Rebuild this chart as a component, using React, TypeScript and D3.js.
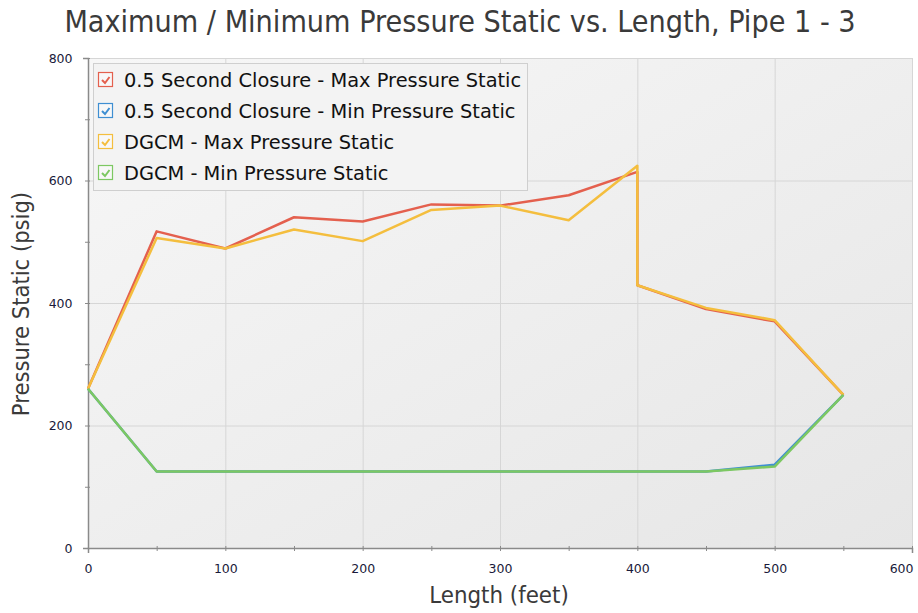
import { useRef, useEffect } from "react";
import * as d3 from "d3";

type Pt = { x: number; y: number };

const lengths = [0, 50, 100, 150, 200, 250, 300, 350, 400, 400, 450, 500, 550];
const maxClosure = [260, 517, 489, 540, 533, 561, 559, 576, 614, 429, 390, 370, 250];
const maxDgcm = [260, 506, 489, 520, 501, 552, 559, 535, 624, 429, 392, 372, 250];

const minLengths = [0, 50, 100, 150, 200, 250, 300, 350, 400, 450, 500, 550];
const minClosure = [260, 125, 125, 125, 125, 125, 125, 125, 125, 125, 136, 250];
const minDgcm = [260, 125, 125, 125, 125, 125, 125, 125, 125, 125, 133, 250];

const seriesNames = [
  "0.5 Second Closure - Max Pressure Static",
  "0.5 Second Closure - Min Pressure Static",
  "DGCM - Max Pressure Static",
  "DGCM - Min Pressure Static",
];
const colors = ["#e4604e", "#3f8fd2", "#f4be3e", "#7dc862"];

const xTicks = [0, 100, 200, 300, 400, 500, 600];
const yTicks = [0, 200, 400, 600, 800];

const width = 918;
const height = 613;

export default function App() {
  const ref = useRef<SVGSVGElement>(null);

  useEffect(() => {
    if (!ref.current) return;
    const svg = d3.select(ref.current);
    svg.selectAll("*").remove();

    const left = 88;
    const right = 912;
    const top = 58;
    const bottom = 548;

    const x = d3.scaleLinear().domain([0, 600]).range([left, right]);
    const y = d3.scaleLinear().domain([0, 800]).range([bottom, top]);

    // background gradient
    const defs = svg.append("defs");
    const grad = defs
      .append("linearGradient")
      .attr("id", "bg")
      .attr("x1", "0")
      .attr("y1", "0")
      .attr("x2", "1")
      .attr("y2", "1");
    grad.append("stop").attr("offset", "0").attr("stop-color", "#f7f7f7");
    grad.append("stop").attr("offset", "1").attr("stop-color", "#e6e6e6");

    svg
      .append("rect")
      .attr("x", left)
      .attr("y", top)
      .attr("width", right - left)
      .attr("height", bottom - top)
      .attr("fill", "url(#bg)");

    // grid
    const grid = svg.append("g").attr("stroke", "#d6d6d6").attr("stroke-width", 1);
    xTicks.slice(1).forEach((t) => {
      grid
        .append("line")
        .attr("x1", x(t) + 0.5)
        .attr("x2", x(t) + 0.5)
        .attr("y1", top)
        .attr("y2", bottom);
    });
    yTicks.slice(1).forEach((t) => {
      grid
        .append("line")
        .attr("x1", left)
        .attr("x2", right)
        .attr("y1", y(t) + 0.5)
        .attr("y2", y(t) + 0.5);
    });

    // axes
    const xAxis = d3
      .axisBottom(x)
      .tickValues(d3.range(0, 601, 50))
      .tickSize(5)
      .tickFormat((d) => (xTicks.includes(d as number) ? String(d) : ""));
    const gx = svg
      .append("g")
      .attr("transform", `translate(0, ${bottom})`)
      .call(xAxis);
    gx.select(".domain").attr("stroke", "#8a8a8a").attr("stroke-width", 1.5);
    gx.selectAll(".tick line").attr("stroke", "#8a8a8a").attr("transform", "translate(0,-2)");
    gx.selectAll<SVGTextElement, number>(".tick text")
      .attr("font-family", "Tahoma, 'DejaVu Sans', sans-serif")
      .attr("font-size", 12.5)
      .attr("fill", "#1a1a3a")
      .attr("dy", "1.35em")
      .attr("text-anchor", (d) => (d === 600 ? "end" : "middle"))
      .attr("dx", (d) => (d === 600 ? 1 : 0));

    const yAxis = d3
      .axisLeft(y)
      .tickValues(d3.range(0, 801, 100))
      .tickSize(5)
      .tickFormat((d) => (yTicks.includes(d as number) ? String(d) : ""));
    const gy = svg
      .append("g")
      .attr("transform", `translate(${left}, 0)`)
      .call(yAxis);
    gy.select(".domain").attr("stroke", "#8a8a8a").attr("stroke-width", 1.5);
    gy.selectAll(".tick line").attr("stroke", "#8a8a8a").attr("transform", "translate(2,0)");
    gy.selectAll(".tick text")
      .attr("font-family", "Tahoma, 'DejaVu Sans', sans-serif")
      .attr("font-size", 12.5)
      .attr("fill", "#1a1a3a")
      .attr("dx", "-0.6em");

    const line = d3
      .line<Pt>()
      .x((d) => x(d.x))
      .y((d) => y(d.y));

    const series: Pt[][] = [
      lengths.map((l, i) => ({ x: l, y: maxClosure[i] })),
      minLengths.map((l, i) => ({ x: l, y: minClosure[i] })),
      lengths.map((l, i) => ({ x: l, y: maxDgcm[i] })),
      minLengths.map((l, i) => ({ x: l, y: minDgcm[i] })),
    ];

    series.forEach((s, i) => {
      svg
        .append("path")
        .datum(s)
        .attr("fill", "none")
        .attr("stroke", colors[i])
        .attr("stroke-width", 2.5)
        .attr("stroke-linejoin", "round")
        .attr("d", line);
    });

    // legend
    const lg = svg.append("g").attr("transform", "translate(93, 63)");
    lg.append("rect")
      .attr("x", 0.5)
      .attr("y", 0.5)
      .attr("width", 434)
      .attr("height", 127)
      .attr("fill", "#f3f3f3")
      .attr("stroke", "#cfcfcf");
    seriesNames.forEach((name, i) => {
      const cy = 17 + i * 31;
      lg.append("rect")
        .attr("x", 5.5)
        .attr("y", cy - 7.5)
        .attr("width", 14)
        .attr("height", 14)
        .attr("fill", "#f8f8f8")
        .attr("stroke", colors[i])
        .attr("stroke-width", 1.2);
      lg.append("path")
        .attr("d", `M ${9} ${cy} L ${12} ${cy + 3} L ${16.5} ${cy - 3}`)
        .attr("fill", "none")
        .attr("stroke", colors[i])
        .attr("stroke-width", 2);
      lg.append("text")
        .attr("x", 31)
        .attr("y", cy + 7)
        .attr("font-family", "Tahoma, 'DejaVu Sans', sans-serif")
        .attr("font-size", 19.4)
        .attr("fill", "#111")
        .text(name);
    });

    // title
    svg
      .append("text")
      .attr("x", 460)
      .attr("y", 32)
      .attr("text-anchor", "middle")
      .attr("font-family", "Tahoma, 'DejaVu Sans Condensed', sans-serif")
      .attr("font-size", 30.2)
      .attr("fill", "#3a3a3a")
      .text("Maximum / Minimum Pressure Static vs. Length, Pipe 1 - 3");

    // axis labels
    svg
      .append("text")
      .attr("x", 499)
      .attr("y", 603)
      .attr("text-anchor", "middle")
      .attr("font-family", "Tahoma, 'DejaVu Sans Condensed', sans-serif")
      .attr("font-size", 23.8)
      .attr("fill", "#3a3a3a")
      .text("Length (feet)");
    svg
      .append("text")
      .attr("transform", `translate(29, 304) rotate(-90)`)
      .attr("text-anchor", "middle")
      .attr("font-family", "Tahoma, 'DejaVu Sans Condensed', sans-serif")
      .attr("font-size", 23.5)
      .attr("fill", "#3a3a3a")
      .text("Pressure Static (psig)");
  }, []);

  return (
    <svg
      ref={ref}
      width={width}
      height={height}
      style={{ position: "absolute", left: 0, top: 0, background: "#fff" }}
    />
  );
}
